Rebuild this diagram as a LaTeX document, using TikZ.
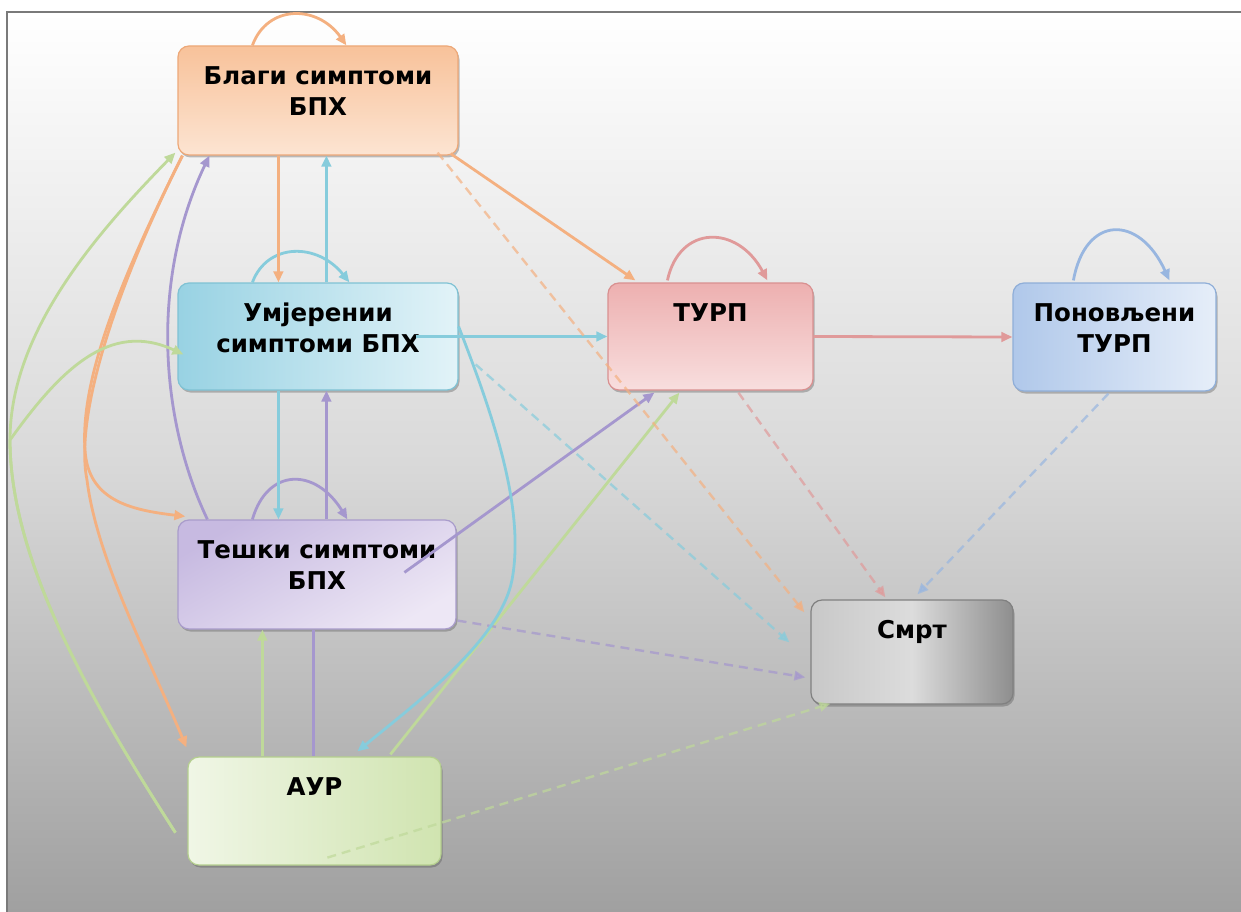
\documentclass[tikz,border=0pt]{standalone}
\usepackage{fontspec}
\setmainfont{DejaVu Sans}
\usetikzlibrary{arrows.meta,calc,shadows}
\definecolor{orE}{HTML}{F4B080}
\definecolor{cyE}{HTML}{86CCDC}
\definecolor{puE}{HTML}{A597CE}
\definecolor{grE}{HTML}{BFD99A}
\definecolor{reE}{HTML}{E09A9A}
\definecolor{blE}{HTML}{98B6E0}
\definecolor{frm}{HTML}{7A7A7A}
\definecolor{bgM}{HTML}{D9D9D9}
\definecolor{bgB}{HTML}{A0A0A0}
\definecolor{orB}{HTML}{EDA878}
\definecolor{orT}{HTML}{F8C29A}
\definecolor{orL}{HTML}{FCE4D2}
\definecolor{cyB}{HTML}{7FC2D4}
\definecolor{cyT}{HTML}{98D2E3}
\definecolor{cyL}{HTML}{E2F3F8}
\definecolor{puB}{HTML}{A99CCB}
\definecolor{puT}{HTML}{C7BAE1}
\definecolor{puL}{HTML}{EDE7F5}
\definecolor{grB}{HTML}{B5CF8F}
\definecolor{grT}{HTML}{D0E4B0}
\definecolor{grL}{HTML}{F0F6E6}
\definecolor{reB}{HTML}{D99090}
\definecolor{reT}{HTML}{EDB0B0}
\definecolor{reL}{HTML}{F8DEDE}
\definecolor{blB}{HTML}{8FAED8}
\definecolor{blT}{HTML}{B0C8EA}
\definecolor{blL}{HTML}{E6EEF9}
\definecolor{gyB}{HTML}{808080}
\definecolor{gyT}{HTML}{C8C8C8}
\definecolor{gyM}{HTML}{DCDCDC}
\definecolor{gyR}{HTML}{8E8E8E}
\newcommand\bxt[3]{\parbox[c][#2][t]{#1}{\vspace*{17pt}\centering\strut #3}}
\begin{document}
\begin{tikzpicture}[x=1pt,y=-1pt,
  box/.style={rounded corners=11pt, inner sep=0pt, line width=1.2pt,
    font=\bfseries\fontsize{24.5}{31}\selectfont,
    drop shadow={shadow xshift=1.5pt,shadow yshift=-2.5pt,opacity=0.35,fill=black!70}},
  ln/.style={line width=2.8pt},
  ed/.style={ln, -{Triangle[length=11pt,width=9.5pt]}},
  de/.style={line width=2.4pt, dash pattern=on 9pt off 6pt, opacity=0.7, -{Triangle[length=11pt,width=9.5pt]}}]
\useasboundingbox (0,0) rectangle (1241,912);
\fill[white] (0,0) rectangle (1241,912);
\shade[top color=white, bottom color=bgB, middle color=bgM] (7,12) rectangle (1241,912);
\draw[frm, line width=1.5pt] (7,912) -- (7,12) -- (1241,12);

\node[box, draw=orB, top color=orT, bottom color=orL] (A) at (318,100.5) {\bxt{280pt}{109pt}{Благи симптоми\\БПХ}};
\node[box, draw=cyB, left color=cyT, right color=cyL] (B) at (318,336.5) {\bxt{280pt}{107pt}{Умјерении\\симптоми БПХ}};
\node[box, draw=puB, top color=puT, bottom color=puL, shading angle=30] (C) at (317,574.5) {\bxt{278pt}{109pt}{Тешки симптоми\\БПХ}};
\node[box, draw=grB, left color=grL, right color=grT] (D) at (314.5,811) {\bxt{253pt}{108pt}{АУР}};
\node[box, draw=reB, top color=reT, bottom color=reL] (E) at (710.5,336.5) {\bxt{205pt}{107pt}{ТУРП}};
\node[box, draw=blB, left color=blT, right color=blL] (F) at (1114.5,337) {\bxt{203pt}{108pt}{Поновљени\\ТУРП}};
\node[box, draw=gyB, left color=gyT, right color=gyR, middle color=gyM] (G) at (912,652) {\bxt{202pt}{104pt}{Смрт}};

% self loops
\draw[ed, orE] ($(A.north west)+(75,0)$) .. controls +(15,-41) and +(-29,-41) .. ($(A.north west)+(169,0)$);
\draw[ed, cyE] ($(B.north west)+(75,0)$) .. controls +(15,-40) and +(-32,-40) .. ($(B.north west)+(172,0)$);
\draw[ed, puE] ($(C.north west)+(75,0)$) .. controls +(15,-52) and +(-32,-52) .. ($(C.north west)+(170,0)$);
\draw[ed, reE] ($(E.north west)+(60,-2)$) .. controls +(12,-56) and +(-30,-56) .. ($(E.north west)+(160,-2)$);
\draw[ed, blE] ($(F.north west)+(61,-2)$) .. controls +(12,-66) and +(-30,-66) .. ($(F.north west)+(157,-2)$);

% vertical edges
\draw[ed, orE] ($(A.south west)+(101,0)$) -- ($(B.north west)+(101,0)$);
\draw[ed, cyE] ($(B.north west)+(149,0)$) -- ($(A.south west)+(149,0)$);
\draw[ed, cyE] ($(B.south west)+(101,0)$) -- ($(C.north west)+(101,0)$);
\draw[ed, puE] ($(C.north west)+(149,0)$) -- ($(B.south west)+(149,0)$);
\draw[ed, grE] ($(D.north west)+(75,0)$) -- ($(C.south west)+(85,0)$);
\draw[ln, puE] ($(C.south west)+(136,0)$) -- ($(D.north west)+(126,0)$);

% to TURP
\draw[ed, orE] ($(A.south east)+(-8,-2)$) -- ($(E.north west)+(28,-2)$);
\draw[ed, cyE] ($(B.east)+(-43,0)$) -- (E.west);
\draw[ed, puE] ($(C.north west)+(227,53)$) -- ($(E.south west)+(47,2)$);
\draw[ed, grE] ($(D.north west)+(203,-2)$) -- ($(E.south west)+(72,2)$);
\draw[ed, reE] (E.east) -- (F.west);

% dashed to death
\draw[de, orE] ($(A.south east)+(-21,-3)$) -- ($(G.north west)+(-6,13)$);
\draw[de, cyE] ($(B.north east)+(17,82)$) -- ($(G.north west)+(-21,43)$);
\draw[de, puE] ($(C.south east)+(1,-9)$) -- ($(G.north west)+(-5,78)$);
\draw[de, grE] ($(D.south west)+(140,-8)$) -- ($(G.south west)+(20,-1)$);
\draw[de, reE] ($(E.south west)+(131,2)$) -- ($(G.north west)+(75,-2)$);
\draw[de, blE] ($(F.south west)+(96,2)$) -- ($(G.north west)+(107,-5)$);

% curves
\draw[ed, orE] ($(A.south west)+(5,0)$) .. controls (120,280) and (80,380) .. (85,450) .. controls (88,500) and (130,510) .. ($(C.north west)+(8,-3)$);
\draw[ed, orE] ($(A.south west)+(5,0)$) .. controls (110,300) and (75,420) .. (87,480) .. controls (97,560) and (150,660) .. ($(D.north west)+(-1,-9)$);
\draw[ed, puE] ($(C.north west)+(30,0)$) .. controls (160,420) and (150,280) .. ($(A.south west)+(32,0)$);
\draw[ed, grE] ($(D.south west)+(-12,-33)$) .. controls (90,700) and (10,560) .. (10,440) .. controls (10,330) and (100,230) .. ($(A.south west)+(-2,-3)$);
\draw[ed, grE] ($(D.south west)+(-12,-33)$) .. controls (90,700) and (10,560) .. (10,440) .. controls (60,370) and (110,320) .. ($(B.west)+(6,18)$);
\draw[ed, cyE] ($(B.east)+(0,-10)$) .. controls (495,420) and (525,510) .. (512,580) .. controls (500,640) and (420,700) .. ($(D.north west)+(170,-5)$);
\end{tikzpicture}
\end{document}
